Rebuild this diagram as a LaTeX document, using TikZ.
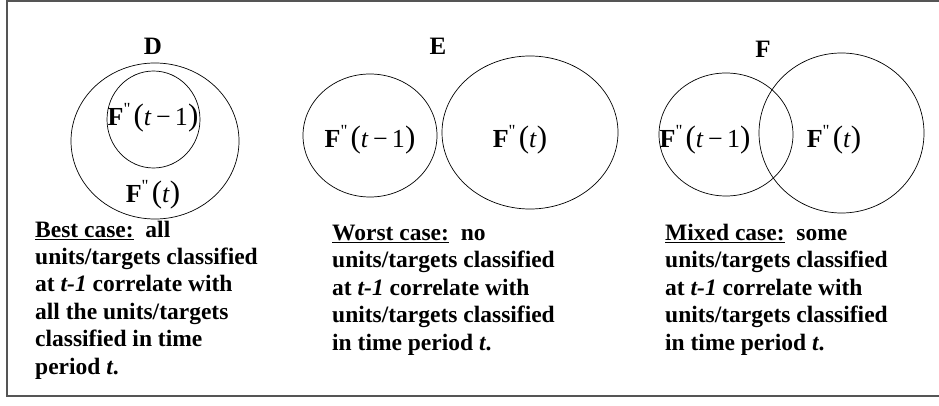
\documentclass[tikz,border=0pt]{standalone}
\usepackage{fontspec}
\setmainfont{Liberation Serif}
\usepackage{xcolor}
\definecolor{FrameGray}{HTML}{555555}

\newcommand{\Fpp}[1]{\textbf{F}\raisebox{0.42em}{\fontsize{17}{17}\selectfont\textquotedbl}\kern0.12em{\fontsize{31}{31}\selectfont(}#1{\fontsize{31}{31}\selectfont)}}

\begin{document}
\begin{tikzpicture}[x=1pt, y=-1pt,
  every node/.style={font=\fontsize{23.5}{27.4}\selectfont\bfseries, inner sep=0pt},
  setlabel/.style={font=\fontsize{25}{25}\selectfont\bfseries},
  setname/.style={font=\fontsize{26}{26}\selectfont},
  casetext/.style={anchor=base west, align=left}]
\useasboundingbox (0,0) rectangle (939,406);
\draw[FrameGray, line width=1.1pt] (941,1) -- (7,1) -- (7,396) -- (941,396);
% best case
\node[setlabel] (labD) at (153,46) {D};
\draw[line width=0.7pt] (155,141) ellipse (84 and 78);
\draw[line width=0.7pt] (153.5,119.5) ellipse (46.5 and 48.5);
\node[setname] (prevD) at (153,118) {\Fpp{\textit{t}\,−\,1}};
\node[setname] (currD) at (153,195) {\Fpp{\textit{t}}};
% base anchor sits on the last line
\node[casetext] (textD) at (35,374) {\underline{Best case:}\ \ all\\units/targets classified\\at \textit{t-1} correlate with\\all the units/targets\\classified in time\\period \textit{t}.};
% worst case
\node[setlabel] (labE) at (438,46) {E};
\draw[line width=0.7pt] (370,135.5) ellipse (67 and 61.5);
\draw[line width=0.7pt] (530,132.5) ellipse (88 and 76.5);
\node[setname] (prevE) at (370,140) {\Fpp{\textit{t}\,−\,1}};
\node[setname] (currE) at (520,140) {\Fpp{\textit{t}}};
\node[casetext] (textE) at (332,350) {\underline{Worst case:}\ \ no\\units/targets classified\\at \textit{t-1} correlate with\\units/targets classified\\in time period \textit{t}.};
% mixed case
\node[setlabel] (labF) at (763,49) {F};
\draw[line width=0.7pt] (726,134.5) ellipse (67 and 61.5);
\draw[line width=0.7pt] (841.5,133) ellipse (82.5 and 80);
\node[setname] (prevF) at (705,140) {\Fpp{\textit{t}\,−\,1}};
\node[setname] (currF) at (834,140) {\Fpp{\textit{t}}};
\node[casetext] (textF) at (665,350) {\underline{Mixed case:}\ \ some\\units/targets classified\\at \textit{t-1} correlate with\\units/targets classified\\in time period \textit{t}.};
\end{tikzpicture}
\end{document}
